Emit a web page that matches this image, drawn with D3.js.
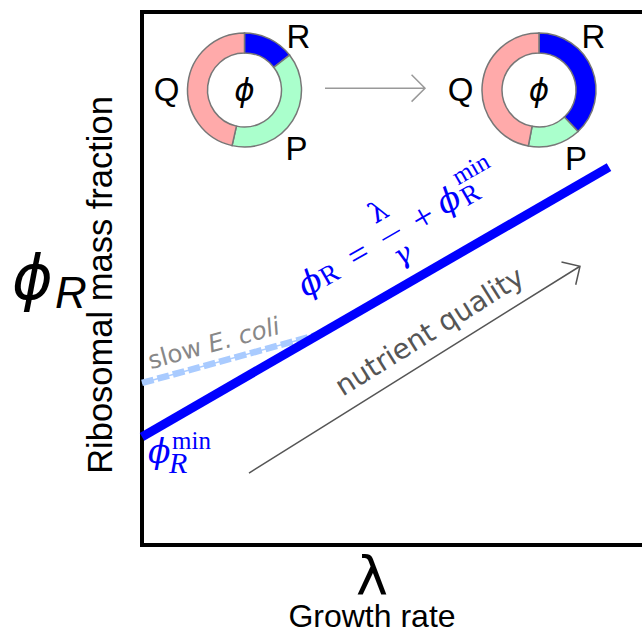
<!DOCTYPE html>
<html><head><meta charset="utf-8">
<script src="https://cdn.jsdelivr.net/npm/d3@7"></script>
<style>body{margin:0;background:#fff}svg{display:block}</style>
</head><body>
<svg id="c" width="642" height="634"></svg>
<script>
// ---------- data ----------
const growthRate = [0, 0.934];          // lambda, main line
const riboFraction = [0.203, 0.709];    // phi_R, main line
const slowLam = [0, 0.35];              // slow E. coli dashed line
const slowPhi = [0.304, 0.394];
const nutrientLam = [0.214, 0.876];     // nutrient quality arrow
const nutrientPhi = [0.135, 0.523];
const topArrowLam = [0.366, 0.566];     // arrow between the two pies
const topArrowPhi = [0.857, 0.857];
const sectors = ["R", "P", "Q"];
const sharesBefore = [0.145, 0.39, 0.465];
const sharesAfter = [0.38, 0.15, 0.47];

// ---------- layout ----------
const svg = d3.select("#c");
const L = 142, T = 12, B = 545, R = 642;
const x = d3.scaleLinear().domain([0, 1]).range([L, R]);
const y = d3.scaleLinear().domain([0, 1]).range([B, T]);
const blue = "#0000ff";
const sectorColor = d3.scaleOrdinal().domain(sectors).range(["#0000ff", "#aaffcc", "#ffaaaa"]);

// frame (right side runs off the canvas)
svg.append("path")
  .attr("d", `M${R + 20},${T}H${L}V${B}H${R + 20}`)
  .attr("fill", "none").attr("stroke", "#000").attr("stroke-width", 4);

const line = d3.line().x(d => x(d[0])).y(d => y(d[1]));

// slow E. coli dashed line
const slowPts = slowLam.map((v, i) => [v, slowPhi[i]]);
svg.append("path").attr("d", line(slowPts)).attr("stroke", "#a9cbff").attr("stroke-width", 1.5).attr("fill", "none");
svg.append("path").attr("d", line(slowPts)).attr("stroke", "#a9cbff").attr("stroke-width", 6.5)
  .attr("stroke-dasharray", "12,4").attr("fill", "none");

// main line
const mainPts = growthRate.map((v, i) => [v, riboFraction[i]]);
svg.append("path").attr("d", line(mainPts)).attr("stroke", blue).attr("stroke-width", 9).attr("fill", "none");

// arrow helper
function arrow(p0, p1, color, width) {
  const x0 = x(p0[0]), y0 = y(p0[1]), x1 = x(p1[0]), y1 = y(p1[1]);
  const a = Math.atan2(y1 - y0, x1 - x0), hl = 19, ha = Math.PI / 4;
  svg.append("path")
    .attr("d", `M${x0},${y0}L${x1},${y1}M${x1 - hl * Math.cos(a - ha)},${y1 - hl * Math.sin(a - ha)}L${x1},${y1}L${x1 - hl * Math.cos(a + ha)},${y1 - hl * Math.sin(a + ha)}`)
    .attr("fill", "none").attr("stroke", color).attr("stroke-width", width);
  return {x0, y0, x1, y1, a};
}
const nut = arrow([nutrientLam[0], nutrientPhi[0]], [nutrientLam[1], nutrientPhi[1]], "#555", 1.5);
arrow([topArrowLam[0], topArrowPhi[0]], [topArrowLam[1], topArrowPhi[1]], "#999", 1.5);

// nutrient quality label
{
  const len = Math.hypot(nut.x1 - nut.x0, nut.y1 - nut.y0);
  const g = svg.append("g").attr("transform", `translate(${nut.x0},${nut.y0}) rotate(${nut.a * 180 / Math.PI})`);
  g.append("text").attr("x", len / 2 + 33).attr("y", -15).attr("text-anchor", "middle")
    .attr("font-family", "DejaVu Sans").attr("font-size", 28).attr("fill", "#555").text("nutrient quality");
}

// slow E. coli label
{
  const x0 = x(slowLam[0]), y0 = y(slowPhi[0]), x1 = x(slowLam[1]), y1 = y(slowPhi[1]);
  const a = Math.atan2(y1 - y0, x1 - x0) * 180 / Math.PI;
  const t = svg.append("g").attr("transform", `translate(${x0},${y0}) rotate(${a})`)
    .append("text").attr("x", 12).attr("y", -11).attr("font-family", "DejaVu Sans").attr("font-size", 24.5).attr("fill", "#888");
  t.append("tspan").text("slow ");
  t.append("tspan").attr("font-style", "italic").text("E. coli");
}

// equation along the line
{
  const x0 = x(growthRate[0]), y0 = y(riboFraction[0]), x1 = x(growthRate[1]), y1 = y(riboFraction[1]);
  const a = Math.atan2(y1 - y0, x1 - x0);
  const along = 278.7;
  const g = svg.append("g")
    .attr("transform", `translate(${x0 + along * Math.cos(a)},${y0 + along * Math.sin(a)}) rotate(${a * 180 / Math.PI}) translate(0,-50)`)
    .attr("fill", blue);
  const F = 33, S = 25;
  const put = (txt, dx, dy, size, fam, style) => g.append("text").attr("x", dx).attr("y", dy)
    .attr("text-anchor", "middle").attr("dominant-baseline", "central")
    .attr("font-family", fam).attr("font-size", size).attr("font-style", style || "normal").text(txt);
  put("\u03D5", -56, 0, F, "DejaVu Serif", "italic");
  put("R", -35.2, 3, 27, "Liberation Serif");
  put("=", 0, 0, F + 2, "Liberation Serif");
  put("\u03BB", 38.5, -27, 28, "DejaVu Serif");
  g.append("line").attr("x1", 28).attr("x2", 48).attr("y1", 0).attr("y2", 0).attr("stroke", blue).attr("stroke-width", 1.6);
  put("\u03B3", 38, 22, 28, "DejaVu Serif", "italic");
  put("+", 74.4, 0, F + 4, "Liberation Serif");
  put("\u03D5", 104.9, -2, F, "DejaVu Serif", "italic");
  put("R", 127, 4, 27, "Liberation Serif");
  put("min", 140, -18, S, "Liberation Serif");
}

// phi_R^min label near the intercept
{
  const g = svg.append("g").attr("fill", blue);
  g.append("text").attr("x", 148).attr("y", 463).attr("font-family", "DejaVu Serif").attr("font-style", "italic").attr("font-size", 33).text("\u03D5");
  g.append("text").attr("x", 169).attr("y", 473).attr("font-family", "Liberation Serif").attr("font-style", "italic").attr("font-size", 30).text("R");
  g.append("text").attr("x", 172).attr("y", 449).attr("font-family", "Liberation Serif").attr("font-size", 25).text("min");
}

// donuts
const pie = d3.pie().sort(null).value(d => d.v);
const arc = d3.arc().innerRadius(37).outerRadius(57);
function donut(cx, cy, shares, labelPos) {
  const g = svg.append("g").attr("transform", `translate(${cx},${cy})`);
  const data = sectors.map((k, i) => ({k, v: shares[i]}));
  g.selectAll("path").data(pie(data)).join("path")
    .attr("d", arc).attr("fill", d => sectorColor(d.data.k)).attr("stroke", "#777").attr("stroke-width", 1.5);
  g.append("text").attr("y", 11).attr("text-anchor", "middle").attr("font-family", "DejaVu Sans")
    .attr("font-style", "italic").attr("font-size", 31).text("\u03D5");
  sectors.forEach((k, i) => {
    g.append("text").attr("x", labelPos[i][0]).attr("y", labelPos[i][1]).attr("text-anchor", "middle")
      .attr("font-family", "Liberation Sans").attr("font-size", 33).text(k);
  });
}
donut(244.5, 90, sharesBefore, [[54, -42], [52, 70], [-78, 11]]);
donut(539, 90, sharesAfter, [[54.5, -42], [37, 80], [-78.5, 11]]);

// axis labels
svg.append("text").attr("x", 12).attr("y", 299).attr("font-family", "DejaVu Sans").attr("font-style", "italic")
  .attr("font-size", 62).text("\u03D5");
svg.append("text").attr("x", 55).attr("y", 308).attr("font-family", "Liberation Sans").attr("font-style", "italic")
  .attr("font-size", 44).text("R");
svg.append("text").attr("transform", "translate(112,285) rotate(-90)").attr("text-anchor", "middle")
  .attr("font-family", "Liberation Sans").attr("font-size", 34.5).text("Ribosomal mass fraction");
svg.append("text").attr("x", 372).attr("y", 595).attr("text-anchor", "middle").attr("font-family", "DejaVu Sans")
  .attr("font-size", 54).text("\u03BB");
svg.append("text").attr("x", 372).attr("y", 627).attr("text-anchor", "middle").attr("font-family", "Liberation Sans")
  .attr("font-size", 32).text("Growth rate");
</script>
</body></html>
